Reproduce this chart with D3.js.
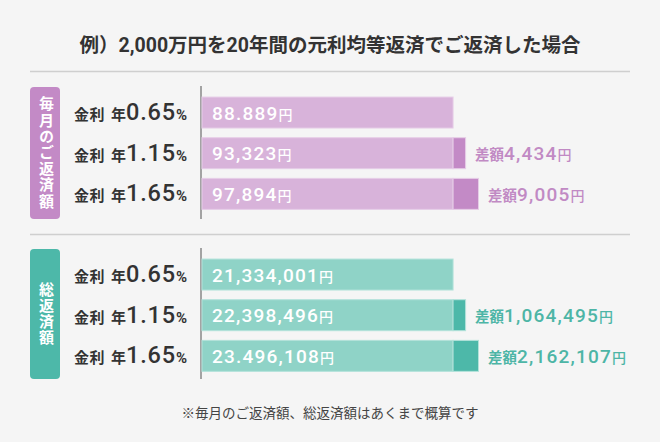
<!DOCTYPE html>
<html>
<head>
<meta charset="utf-8">
<script src="https://cdn.jsdelivr.net/npm/d3@7"></script>
<style>
  body { margin: 0; background: #f5f5f5; }
  svg { display: block; font-family: Roboto, "Noto Sans CJK JP", sans-serif; }
</style>
</head>
<body>
<svg id="chart" width="660" height="442"></svg>
<script>
// datos
var rates = ["0.65", "1.15", "1.65"];
var monthly = [88889, 93323, 97894];
var monthlyLabels = ["88.889", "93,323", "97,894"];
var total = [21334001, 22398496, 23496108];
var totalLabels = ["21,334,001", "22,398,496", "23.496,108"];

var svg = d3.select('#chart'),
    width = +svg.attr("width"),
    height = +svg.attr("height");

svg.append("rect").attr("width", width).attr("height", height).attr("fill", "#f5f5f5");

/* Titulo */
svg.append("text")
    .attr("x", 330)
    .attr("y", 52)
    .attr("text-anchor", "middle")
    .attr("font-size", "19.5px")
    .attr("font-weight", "bold")
    .attr("fill", "#333")
    .text("例）2,000万円を20年間の元利均等返済でご返済した場合");

svg.append("line").attr("x1", 30).attr("x2", 630).attr("y1", 71.5).attr("y2", 71.5)
    .attr("stroke", "#cfcfcf").attr("stroke-width", 1.5);
svg.append("line").attr("x1", 30).attr("x2", 630).attr("y1", 234.5).attr("y2", 234.5)
    .attr("stroke", "#cfcfcf").attr("stroke-width", 1.5);

svg.append("text")
    .attr("x", 330)
    .attr("y", 418)
    .attr("text-anchor", "middle")
    .attr("font-size", "13.5px")
    .attr("fill", "#444")
    .text("※毎月のご返済額、総返済額はあくまで概算です");

var fmt = d3.format(",");

function grupo(cfg){
    var values = cfg.values;
    var x = d3.scaleLinear().domain([0, d3.max(values)]).range([202, 478.5]);
    var y = d3.scaleBand().domain(rates).range([cfg.top + 5.2, cfg.top + 127.2])
        .paddingInner(0.238).paddingOuter(0.119);

    var g = svg.append("g");

    // etiqueta vertical
    g.append("rect")
        .attr("x", 30).attr("y", cfg.top).attr("width", 30).attr("height", cfg.boxH)
        .attr("rx", 4).attr("fill", cfg.dark);
    g.append("text")
        .attr("x", 45).attr("y", cfg.top + cfg.boxH / 2)
        .attr("text-anchor", "middle")
        .attr("dominant-baseline", "central")
        .style("writing-mode", "vertical-rl")
        .style("text-orientation", "upright")
        .style("letter-spacing", "1.2px")
        .attr("font-size", "15px")
        .attr("font-weight", "bold")
        .attr("fill", "#fff")
        .text(cfg.title);

    // eje
    g.append("line")
        .attr("x1", 201).attr("x2", 201)
        .attr("y1", cfg.top - 1).attr("y2", cfg.top + cfg.boxH)
        .attr("stroke", "#a3a3a3").attr("stroke-width", 2);

    // etiquetas de tasa
    var lab = g.selectAll(".rate").data(rates).enter().append("text")
        .attr("class", "rate")
        .attr("x", 187)
        .attr("y", function(d){ return y(d) + y.bandwidth() / 2 + 7.5; })
        .attr("text-anchor", "end")
        .attr("font-weight", "bold")
        .attr("fill", "#333");
    lab.append("tspan").attr("font-size", "15px").style("letter-spacing", "0.5px").text("金利");
    lab.append("tspan").attr("font-size", "15px").attr("dx", 6).text("年");
    lab.append("tspan").attr("font-size", "23.5px").attr("font-weight", 500)
        .style("letter-spacing", "0.8px").text(function(d){ return d; });
    lab.append("tspan").attr("font-size", "15px").text("%");

    // barras base
    g.selectAll(".base").data(values).enter().append("rect")
        .attr("class", "base")
        .attr("x", x(0))
        .attr("y", function(d, i){ return y(rates[i]); })
        .attr("width", x(values[0]) - x(0))
        .attr("height", y.bandwidth())
        .attr("fill", cfg.light)
        .attr("stroke", cfg.edge).attr("stroke-width", 1);

    // diferencia
    g.selectAll(".extra").data(values.slice(1)).enter().append("rect")
        .attr("class", "extra")
        .attr("x", x(values[0]))
        .attr("y", function(d, i){ return y(rates[i + 1]); })
        .attr("width", function(d){ return x(d) - x(values[0]); })
        .attr("height", y.bandwidth())
        .attr("fill", cfg.dark)
        .attr("stroke", cfg.edge).attr("stroke-width", 1);

    // valores
    var val = g.selectAll(".val").data(cfg.labels).enter().append("text")
        .attr("class", "val")
        .attr("x", 212)
        .attr("y", function(d, i){ return y(rates[i]) + y.bandwidth() / 2 + 7; })
        .attr("fill", "#fff")
        .attr("font-weight", 500);
    val.append("tspan").attr("font-size", "19px").style("letter-spacing", "1.2px")
        .text(function(d){ return d; });
    val.append("tspan").attr("font-size", "14px").text("円");

    // diferencia texto
    var dif = g.selectAll(".dif").data(values.slice(1)).enter().append("text")
        .attr("class", "dif")
        .attr("x", function(d){ return x(d) + 9.5; })
        .attr("y", function(d, i){ return y(rates[i + 1]) + y.bandwidth() / 2 + 7; })
        .attr("fill", cfg.text)
        .attr("font-weight", 500);
    dif.append("tspan").attr("font-size", "14.5px").attr("font-weight", "bold").text("差額");
    dif.append("tspan").attr("font-size", "19px").style("letter-spacing", "1.2px")
        .text(function(d){ return fmt(d - values[0]); });
    dif.append("tspan").attr("font-size", "14px").text("円");
}

grupo({ values: monthly, labels: monthlyLabels, top: 87, boxH: 132, title: "毎月のご返済額",
        light: "#d8b3da", dark: "#c38ac6", edge: "#e6cde7", text: "#c18ac4" });
grupo({ values: total, labels: totalLabels, top: 249, boxH: 130, title: "総返済額",
        light: "#8fd3c7", dark: "#4db8a9", edge: "#b3e2da", text: "#4db5a6" });
</script>
</body>
</html>
